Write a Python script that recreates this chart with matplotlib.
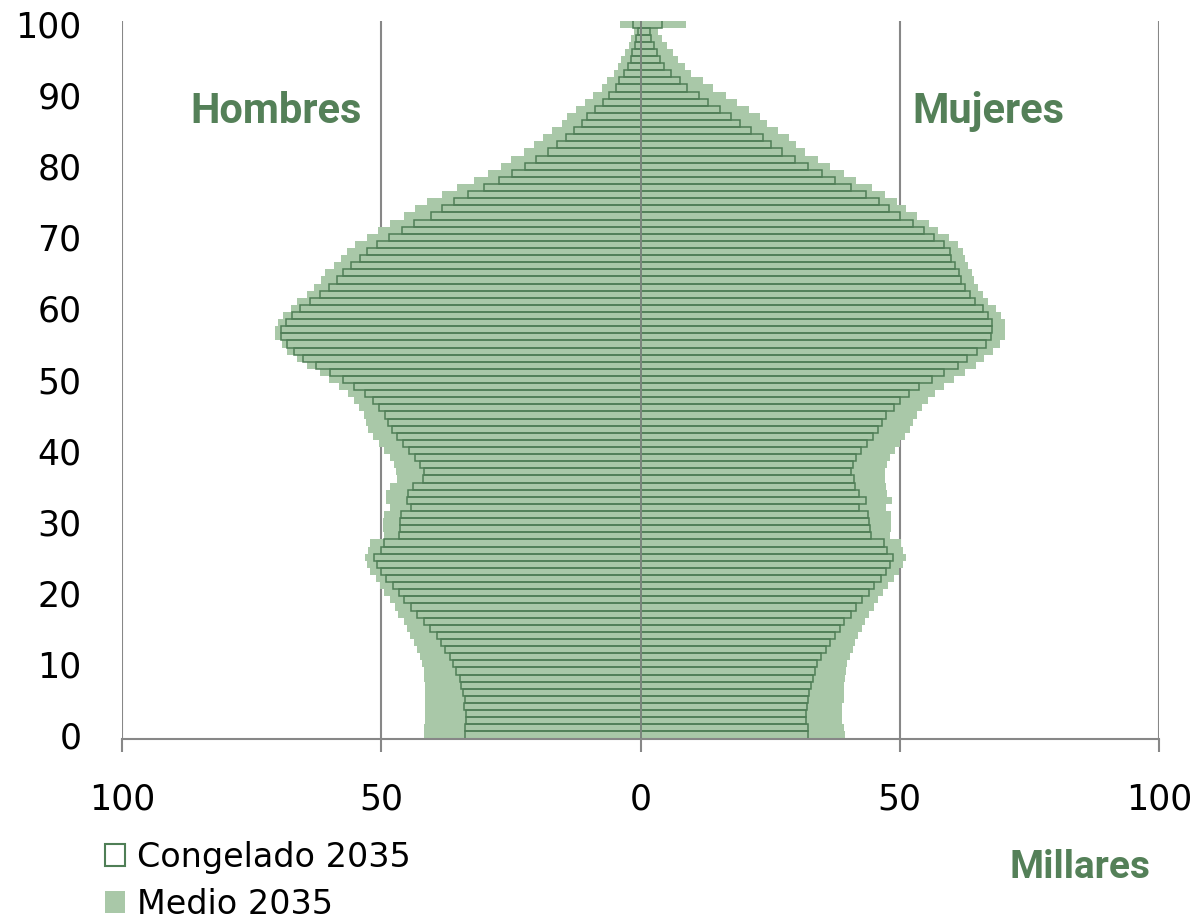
import numpy as np
import matplotlib
matplotlib.use("Agg")
import matplotlib.pyplot as plt
from matplotlib.patches import Patch

# Population 2035 by single year of age (thousands)
ages = list(range(0, 101))

hombres_medio = [
    41.8, 41.7, 41.5, 41.5, 41.5, 41.5, 41.5, 41.5, 41.7, 41.8,
    42.2, 42.6, 43.2, 43.6, 44.4, 45.0, 45.7, 46.7, 47.3, 48.4,
    49.4, 50.3, 51.1, 52.1, 52.8, 53.2, 52.5, 52.1, 49.5, 49.7,
    49.7, 49.5, 48.4, 49.0, 49.0, 48.4, 47.0, 47.1, 47.6, 48.4,
    49.4, 50.5, 51.5, 52.5, 53.0, 53.4, 54.2, 55.2, 56.5, 58.1,
    60.0, 61.9, 64.4, 66.2, 68.1, 69.2, 70.4, 70.4, 70.0, 68.9,
    67.5, 66.2, 64.4, 62.9, 61.7, 60.8, 59.2, 57.7, 56.7, 55.1,
    52.8, 50.6, 48.4, 45.7, 43.4, 41.1, 38.2, 35.3, 32.2, 29.5,
    27.0, 24.9, 22.4, 20.6, 18.9, 17.0, 15.2, 14.1, 12.5, 10.8,
    9.1, 7.5, 6.4, 5.2, 4.4, 3.7, 2.9, 2.3, 1.9, 1.3, 3.9,
]

hombres_congelado = [
    33.9, 33.9, 33.7, 33.6, 34.1, 33.9, 34.2, 34.6, 34.8, 35.6,
    36.2, 36.7, 37.7, 38.5, 39.2, 40.6, 41.8, 43.1, 44.2, 45.6,
    46.6, 47.8, 49.0, 50.0, 50.8, 51.4, 50.1, 49.5, 46.6, 46.4,
    46.4, 46.2, 44.3, 45.0, 44.8, 43.9, 42.0, 41.8, 42.6, 43.4,
    44.7, 45.8, 46.9, 47.9, 48.7, 49.3, 50.5, 51.6, 53.2, 55.3,
    57.4, 59.9, 62.6, 65.0, 66.9, 68.2, 69.4, 69.4, 68.4, 67.2,
    65.7, 63.8, 61.8, 60.1, 58.6, 57.4, 55.9, 54.1, 52.8, 50.9,
    48.5, 46.0, 43.7, 40.5, 38.2, 35.9, 33.2, 30.2, 27.2, 24.7,
    22.2, 20.1, 17.9, 16.2, 14.4, 12.9, 11.2, 10.3, 8.8, 7.3,
    6.0, 4.8, 4.1, 3.2, 2.4, 1.9, 1.6, 1.1, 0.8, 0.5, 1.5,
]

mujeres_medio = [
    39.5, 39.3, 38.9, 38.9, 38.9, 39.3, 39.3, 39.3, 39.5, 39.7,
    39.9, 40.4, 41.0, 41.4, 42.0, 42.8, 43.3, 44.1, 45.1, 45.8,
    46.8, 47.8, 48.9, 49.9, 50.7, 51.2, 50.7, 50.3, 48.2, 48.3,
    48.3, 48.3, 47.3, 48.5, 47.6, 47.4, 47.2, 47.2, 47.6, 48.2,
    49.1, 50.1, 51.0, 52.0, 52.6, 53.4, 54.3, 55.5, 56.8, 58.6,
    60.5, 62.6, 64.7, 66.3, 68.0, 69.4, 70.3, 70.3, 70.3, 69.6,
    68.6, 67.1, 66.1, 65.1, 64.4, 64.0, 63.2, 62.6, 62.2, 61.3,
    59.5, 57.4, 55.7, 53.4, 51.2, 49.5, 47.2, 44.7, 41.6, 39.3,
    36.6, 34.3, 31.8, 30.0, 28.7, 26.6, 24.4, 23.1, 21.0, 18.6,
    16.5, 14.0, 12.1, 9.8, 8.6, 7.3, 6.3, 5.1, 4.2, 3.3, 8.8,
]

mujeres_congelado = [
    32.3, 32.3, 31.9, 31.9, 32.1, 32.3, 32.5, 32.8, 33.2, 33.6,
    34.1, 34.8, 35.7, 36.6, 37.5, 38.4, 39.2, 40.6, 41.5, 42.8,
    44.0, 45.0, 46.4, 47.3, 48.1, 48.7, 47.6, 46.9, 44.4, 44.2,
    44.0, 43.8, 42.1, 43.5, 42.1, 41.3, 41.1, 40.6, 41.0, 41.6,
    42.6, 43.7, 44.9, 45.8, 46.6, 47.4, 48.9, 50.1, 51.8, 53.7,
    56.2, 58.5, 61.2, 62.9, 64.9, 66.6, 67.6, 67.8, 67.8, 67.0,
    66.0, 64.5, 63.5, 62.6, 61.8, 61.4, 60.6, 59.9, 59.7, 58.5,
    56.6, 54.7, 52.6, 50.0, 47.9, 46.0, 43.5, 40.6, 37.6, 35.0,
    32.3, 29.8, 27.3, 25.2, 23.7, 21.3, 19.1, 17.5, 15.4, 13.1,
    11.3, 9.0, 7.6, 5.9, 4.5, 3.7, 3.2, 2.6, 2.0, 1.8, 4.2,
]

x_ticks = [-100, -50, 0, 50, 100]
x_tick_labels = ["100", "50", "0", "50", "100"]
y_ticks = list(range(0, 101, 10))
series_labels = ["Congelado 2035", "Medio 2035"]

LIGHT = "#a9c8a8"
DARK = "#4f7e56"
TEXT_GREEN = "#548058"
GRID = "#878787"

plt.rcParams["font.family"] = ["DejaVu Sans"]

W, H = 1198, 923
fig = plt.figure(figsize=(W / 100, H / 100), dpi=100)
ax = fig.add_axes([122 / W, 1 - 738.5 / H, (1159 - 122) / W, (738.5 - 20.5) / H])

a = np.array(ages)
hm = np.array(hombres_medio)
hc = np.array(hombres_congelado)
mm = np.array(mujeres_medio)
mc = np.array(mujeres_congelado)

# filled "Medio" bars
ax.barh(a, -hm, height=1.0, color=LIGHT, linewidth=0, zorder=2)
ax.barh(a, mm, height=1.0, color=LIGHT, linewidth=0, zorder=2)
# hollow "Congelado" bars
ax.barh(a, -hc, height=1.0, facecolor="none", edgecolor=DARK, linewidth=1.1, zorder=3)
ax.barh(a, mc, height=1.0, facecolor="none", edgecolor=DARK, linewidth=1.1, zorder=3)

ax.set_xlim(-100, 100)
ax.set_ylim(-0.5, 100.5)

for xv in (-100, -50, 50, 100):
    ax.axvline(xv, color=GRID, linewidth=1.5, zorder=1)
ax.axvline(0, color=GRID, linewidth=1.1, zorder=4)

for side in ("top", "right", "left"):
    ax.spines[side].set_visible(False)
ax.spines["bottom"].set_color(GRID)
ax.spines["bottom"].set_linewidth(1.5)
ax.spines["bottom"].set_zorder(5)

ax.set_xticks(x_ticks)
ax.set_xticklabels(x_tick_labels)
ax.tick_params(axis="x", direction="out", length=9.5, width=1.5, color=GRID,
               pad=22, labelsize=25, labelcolor="black")
ax.set_yticks(y_ticks)
ax.set_yticklabels([str(v) for v in y_ticks])
ax.tick_params(axis="y", length=0, pad=29, labelsize=25, labelcolor="black")

fig.text(190 / W, 1 - 123 / H, "Hombres", family="Roboto", weight="bold",
         fontsize=30, color=TEXT_GREEN, ha="left", va="baseline")
fig.text(912 / W, 1 - 123 / H, "Mujeres", family="Roboto", weight="bold",
         fontsize=30, color=TEXT_GREEN, ha="left", va="baseline")
fig.text(1010 / W, 1 - 878 / H, "Millares", family="Roboto", weight="bold",
         fontsize=28, color=TEXT_GREEN, ha="left", va="baseline")

handles = [
    Patch(facecolor="none", edgecolor=DARK, linewidth=1.5, label=series_labels[0]),
    Patch(facecolor=LIGHT, edgecolor="none", label=series_labels[1]),
]
fig.legend(handles=handles, loc="upper left", bbox_to_anchor=(105 / W, 1 - 841 / H),
           frameon=False, fontsize=24, handlelength=0.6, handleheight=0.65,
           handletextpad=0.37, labelspacing=0.42, borderpad=0, borderaxespad=0)

fig.savefig("out.png", dpi=100, facecolor="white")
